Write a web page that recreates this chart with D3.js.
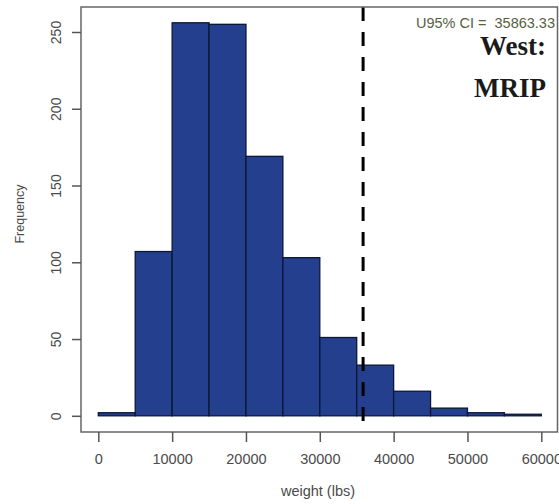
<!DOCTYPE html>
<html>
<head>
<meta charset="utf-8">
<script src="https://cdn.jsdelivr.net/npm/d3@7"></script>
<style>
  html, body { margin: 0; padding: 0; background: #fff; }
  svg { display: block; }
</style>
</head>
<body>
<svg id="chart" width="559" height="504"></svg>
<script>
// Histogram bins (lbs) and their counts
const binStarts = [0, 5000, 10000, 15000, 20000, 25000, 30000, 35000, 40000, 45000, 50000, 55000];
const binWidth = 5000;
const counts = [2, 107, 256, 255, 169, 103, 51, 33, 16, 5, 2, 1];

// Axis ticks
const xTicks = [0, 10000, 20000, 30000, 40000, 50000, 60000];
const yTicks = [0, 50, 100, 150, 200, 250];

// Upper 95% confidence limit
const u95 = 35863.33;
const ciLabel = "U95% CI =  35863.33";
const panelTitle = ["West:", "MRIP"];

const svg = d3.select("#chart");

// Plot region box
const box = { left: 81, right: 557.5, top: 7, bottom: 432 };

const x = d3.scaleLinear().domain([0, 60000]).range([98.3, 541.3]);
const y = d3.scaleLinear().domain([0, 250]).range([415.8, 32]);

const bins = binStarts.map((b, i) => ({ x0: b, x1: b + binWidth, n: counts[i] }));

// Bars
svg.append("g")
  .selectAll("rect")
  .data(bins)
  .join("rect")
  .attr("x", d => x(d.x0))
  .attr("y", d => y(d.n))
  .attr("width", d => x(d.x1) - x(d.x0))
  .attr("height", d => y(0) - y(d.n))
  .attr("fill", "#243f8d")
  .attr("stroke", "#0b1736")
  .attr("stroke-width", 1.3);

// Dashed CI line
svg.append("line")
  .attr("x1", x(u95)).attr("x2", x(u95))
  .attr("y1", box.top).attr("y2", box.bottom)
  .attr("stroke", "#000")
  .attr("stroke-width", 3)
  .attr("stroke-dasharray", "14,11");

// Frame
svg.append("rect")
  .attr("x", box.left).attr("y", box.top)
  .attr("width", box.right - box.left)
  .attr("height", box.bottom - box.top)
  .attr("fill", "none")
  .attr("stroke", "#666")
  .attr("stroke-width", 1.5);

// X axis
const xAxis = d3.axisBottom(x)
  .tickValues(xTicks)
  .tickFormat(d3.format("d"))
  .tickSize(10)
  .tickPadding(12);
const gx = svg.append("g")
  .attr("transform", `translate(0,${box.bottom})`)
  .call(xAxis);
gx.select(".domain").remove();
gx.selectAll(".tick line").attr("stroke", "#555").attr("stroke-width", 1.5);
gx.selectAll(".tick text")
  .attr("fill", "#4a4a4a")
  .style("font-family", "Liberation Sans, Arial, sans-serif")
  .style("font-size", "14.5px");

// Y axis
const yAxis = d3.axisLeft(y)
  .tickValues(yTicks)
  .tickSize(9)
  .tickPadding(0);
const gy = svg.append("g")
  .attr("transform", `translate(${box.left},0)`)
  .call(yAxis);
gy.select(".domain").remove();
gy.selectAll(".tick line").attr("stroke", "#555").attr("stroke-width", 1.5);
gy.selectAll(".tick text")
  .attr("fill", "#4a4a4a")
  .attr("text-anchor", "middle")
  .attr("dy", null)
  .attr("dominant-baseline", "central")
  .attr("transform", "translate(-25,0) rotate(-90)")
  .attr("x", 0)
  .style("font-family", "Liberation Sans, Arial, sans-serif")
  .style("font-size", "14px");

// Axis titles
svg.append("text")
  .attr("x", 318).attr("y", 496)
  .attr("text-anchor", "middle")
  .attr("fill", "#4a4a4a")
  .style("font-family", "Liberation Sans, Arial, sans-serif")
  .style("font-size", "14.5px")
  .text("weight (lbs)");

svg.append("text")
  .attr("transform", "translate(20,214) rotate(-90)")
  .attr("text-anchor", "middle")
  .attr("dominant-baseline", "central")
  .attr("fill", "#4a4a4a")
  .style("font-family", "Liberation Sans, Arial, sans-serif")
  .style("font-size", "12.5px")
  .text("Frequency");

// CI annotation
svg.append("text")
  .attr("x", 555).attr("y", 28)
  .attr("text-anchor", "end")
  .attr("fill", "#55613f")
  .style("font-family", "Liberation Sans, Arial, sans-serif")
  .style("font-size", "14.5px")
  .style("white-space", "pre")
  .attr("xml:space", "preserve")
  .text(ciLabel);

// Panel title
svg.append("g")
  .selectAll("text")
  .data(panelTitle)
  .join("text")
  .attr("x", 546)
  .attr("y", (d, i) => 55 + i * 42)
  .attr("text-anchor", "end")
  .attr("fill", "#1a1a1a")
  .style("font-family", "Liberation Serif, Times New Roman, serif")
  .style("font-weight", "bold")
  .style("font-size", "27px")
  .text(d => d);
</script>
</body>
</html>
